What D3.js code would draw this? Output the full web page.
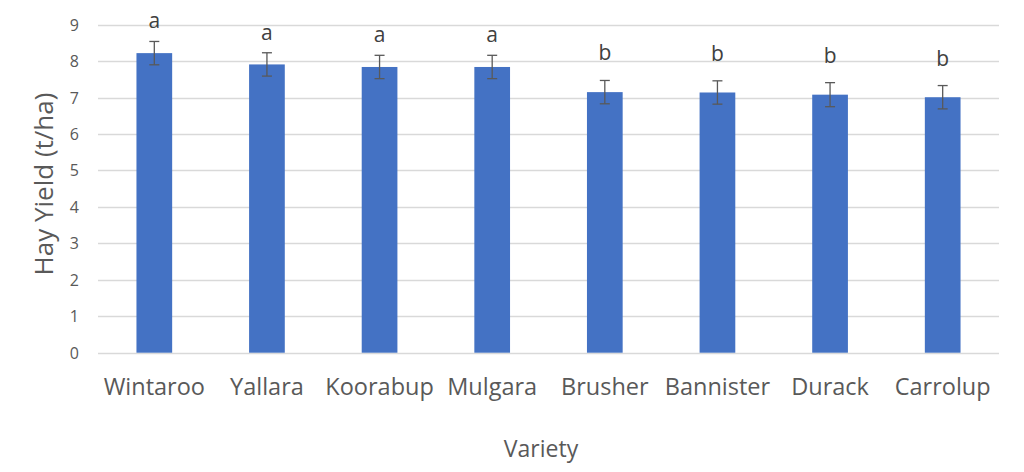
<!DOCTYPE html>
<html><head><meta charset="utf-8">
<script src="https://cdn.jsdelivr.net/npm/d3@7"></script>
<style>body{margin:0;background:#fff}svg{display:block}</style>
</head><body>
<svg id="c" width="1024" height="472"></svg>
<script>
const categories = ["Wintaroo","Yallara","Koorabup","Mulgara","Brusher","Bannister","Durack","Carrolup"];
const yieldValues = [8.22, 7.91, 7.84, 7.84, 7.15, 7.14, 7.08, 7.01];
const errorValues = [0.32, 0.32, 0.32, 0.32, 0.32, 0.32, 0.33, 0.32];
const groupLetters = ["a","a","a","a","b","b","b","b"];
const yTicks = [0,1,2,3,4,5,6,7,8,9];

const svg = d3.select("#c");
const plotL = 98, plotR = 999, plotT = 24.7, plotB = 352.7;
const x = d3.scaleBand().domain(categories).range([plotL, plotR]).paddingInner(0.683).paddingOuter(0.3415);
const y = d3.scaleLinear().domain([0, 9]).range([plotB, plotT]);
const font = "'Open Sans', 'Noto Sans', sans-serif";
const txt = "#595959";

// gridlines
svg.append("g").selectAll("line").data(yTicks).join("line")
  .attr("x1", plotL).attr("x2", plotR)
  .attr("y1", d => Math.round(y(d)) + 0.5).attr("y2", d => Math.round(y(d)) + 0.5)
  .attr("stroke", "#d9d9d9").attr("stroke-width", 1.3);

// y axis labels
const yAxis = d3.axisLeft(y).tickValues(yTicks).tickSize(0).tickPadding(0);
const ya = svg.append("g").attr("transform", `translate(${plotL - 19},0)`).call(yAxis);
ya.select(".domain").remove();
ya.selectAll("text").attr("font-family", font).attr("font-size", 16).attr("fill", txt).attr("dy", "0.34em");

// bars
svg.append("g").selectAll("rect").data(categories).join("rect")
  .attr("x", d => x(d)).attr("width", x.bandwidth())
  .attr("y", (d, i) => y(yieldValues[i]))
  .attr("height", (d, i) => y(0) - y(yieldValues[i]))
  .attr("fill", "#4472c4");

// error bars
const eb = svg.append("g").attr("stroke", "#595959").attr("stroke-width", 1.3);
categories.forEach((c, i) => {
  const cx = x(c) + x.bandwidth() / 2;
  const hi = y(yieldValues[i] + errorValues[i]), lo = y(yieldValues[i] - errorValues[i]);
  eb.append("line").attr("x1", cx).attr("x2", cx).attr("y1", hi).attr("y2", lo);
  eb.append("line").attr("x1", cx - 5).attr("x2", cx + 5).attr("y1", hi).attr("y2", hi);
  eb.append("line").attr("x1", cx - 5).attr("x2", cx + 5).attr("y1", lo).attr("y2", lo);
});

// group letters
svg.append("g").selectAll("text").data(categories).join("text")
  .attr("x", d => x(d) + x.bandwidth() / 2)
  .attr("y", (d, i) => y(yieldValues[i] + errorValues[i]) - (groupLetters[i] === "a" ? 13 : 20))
  .attr("text-anchor", "middle").attr("font-family", font).attr("font-size", 21).attr("fill", "#404040")
  .text((d, i) => groupLetters[i]);

// x axis labels
const xAxis = d3.axisBottom(x).tickSize(0).tickPadding(0);
const xa = svg.append("g").attr("transform", `translate(0,${plotB})`).call(xAxis);
xa.select(".domain").remove();
xa.selectAll("text").attr("font-family", font).attr("font-size", 23.5).attr("fill", txt).attr("dy", null).attr("y", 42);

// axis titles
svg.append("text").attr("x", 541).attr("y", 457).attr("text-anchor", "middle")
  .attr("font-family", font).attr("font-size", 23).attr("fill", txt).text("Variety");
svg.append("text").attr("transform", "translate(53,184) rotate(-90)").attr("text-anchor", "middle")
  .attr("font-family", font).attr("font-size", 26).attr("fill", txt).text("Hay Yield (t/ha)");
</script>
</body></html>
